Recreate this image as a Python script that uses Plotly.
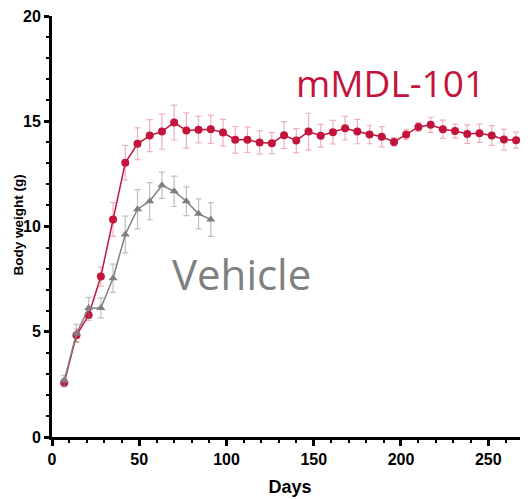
import plotly.graph_objects as go

# Data
red_days = [7, 14, 21, 28, 35, 42, 49, 56, 63, 70, 77, 84, 91, 98, 105, 112, 119, 126, 133, 140,
            147, 154, 161, 168, 175, 182, 189, 196, 203, 210, 217, 224, 231, 238, 245, 252, 259, 266]
red_mean = [2.58, 4.83, 5.79, 7.62, 10.33, 13.03, 13.93, 14.32, 14.51, 14.94, 14.56, 14.6, 14.62, 14.46,
            14.12, 14.12, 13.99, 13.96, 14.34, 14.08, 14.51, 14.31, 14.48, 14.67, 14.51, 14.37, 14.26,
            14.02, 14.37, 14.73, 14.83, 14.62, 14.54, 14.39, 14.43, 14.32, 14.13, 14.1]
red_err = [0.2, 0.3, 0.25, 0.45, 0.8, 0.82, 0.76, 0.76, 0.84, 0.83, 0.84, 0.63, 0.67, 0.63,
           0.63, 0.6, 0.55, 0.5, 0.64, 0.57, 0.87, 0.54, 0.56, 0.56, 0.58, 0.44, 0.48,
           0.2, 0.25, 0.2, 0.36, 0.43, 0.33, 0.44, 0.43, 0.47, 0.5, 0.38]

grey_days = [7, 14, 21, 28, 35, 42, 49, 56, 63, 70, 77, 84, 91]
grey_mean = [2.68, 4.92, 6.13, 6.13, 7.54, 9.62, 10.82, 11.2, 11.96, 11.67, 11.2, 10.6, 10.33]
grey_err = [0.25, 0.43, 0.5, 0.47, 0.67, 0.87, 0.93, 0.88, 0.62, 0.72, 0.68, 0.71, 0.8]

x_ticks = [0, 50, 100, 150, 200, 250]
y_ticks = [0, 5, 10, 15, 20]

RED = "#C4143C"
GREY = "#808080"
tick_font = dict(family="Liberation Sans Narrow, Arial Narrow, Liberation Sans", size=16,
                 color="black", weight="bold")

fig = go.Figure()
fig.add_trace(go.Scatter(
    x=red_days, y=red_mean, mode="lines+markers",
    line=dict(color=RED, width=1.5),
    marker=dict(symbol="circle", size=8, color=RED),
    error_y=dict(type="data", array=red_err, visible=True, color="rgba(200,30,70,0.35)",
                 thickness=1.2, width=3),
    showlegend=False))
fig.add_trace(go.Scatter(
    x=grey_days, y=grey_mean, mode="lines+markers",
    line=dict(color=GREY, width=1.5),
    marker=dict(symbol="triangle-up", size=8, color=GREY),
    error_y=dict(type="data", array=grey_err, visible=True, color="rgba(128,128,128,0.5)",
                 thickness=1.2, width=3),
    showlegend=False))

# pixel positions inside the figure (page body has an 8px offset)
fig.add_annotation(x=286, y=75, xref="paper", yref="paper", text="mMDL-101",
                   showarrow=False, xanchor="left", yanchor="middle",
                   font=dict(family="Open Sans", size=37, color=RED))
fig.add_annotation(x=162, y=265, xref="paper", yref="paper", text="Vehicle",
                   showarrow=False, xanchor="left", yanchor="middle",
                   font=dict(family="Open Sans", size=42, color=GREY))
fig.add_annotation(x=9.5, y=217, xref="paper", yref="paper", text="Body weight (g)",
                   showarrow=False, xanchor="center", yanchor="middle", textangle=-90,
                   font=dict(family="Liberation Sans, Arial", size=13.5, color="black", weight="bold"))

W, H = 528, 499
L, R, T, B = 44, 8, 8, 70
for a in fig.layout.annotations:
    a.x = (a.x - L) / (W - L - R)
    a.y = 1 - (a.y - T) / (H - T - B)

fig.update_layout(
    width=W, height=H,
    margin=dict(l=L, r=R, t=T, b=B, autoexpand=False),
    plot_bgcolor="white", paper_bgcolor="white",
)
fig.update_xaxes(
    range=[0, 272.8], tickvals=x_ticks, ticktext=[str(v) for v in x_ticks],
    showgrid=False, zeroline=False, showline=True, linecolor="black", linewidth=3,
    ticks="outside", ticklen=6, tickwidth=2.5, tickcolor="black",
    minor=dict(dtick=10, tick0=0, ticks="outside", ticklen=3, tickwidth=2, tickcolor="black"),
    tickfont=tick_font, automargin=False, ticklabeloverflow="allow",
    title=dict(text="Days", font=dict(family="Liberation Sans Narrow, Arial Narrow, Liberation Sans",
                                       size=18, color="black", weight="bold"), standoff=14),
)
fig.update_yaxes(
    range=[0, 20], tickvals=y_ticks, ticktext=[str(v) for v in y_ticks],
    showgrid=False, zeroline=False, showline=True, linecolor="black", linewidth=3,
    ticks="outside", ticklen=5, tickwidth=2.5, tickcolor="black",
    minor=dict(dtick=1, tick0=0, ticks="outside", ticklen=3, tickwidth=2, tickcolor="black"),
    tickfont=tick_font, automargin=False, ticklabeloverflow="allow",
)

fig.write_html("out.html")
